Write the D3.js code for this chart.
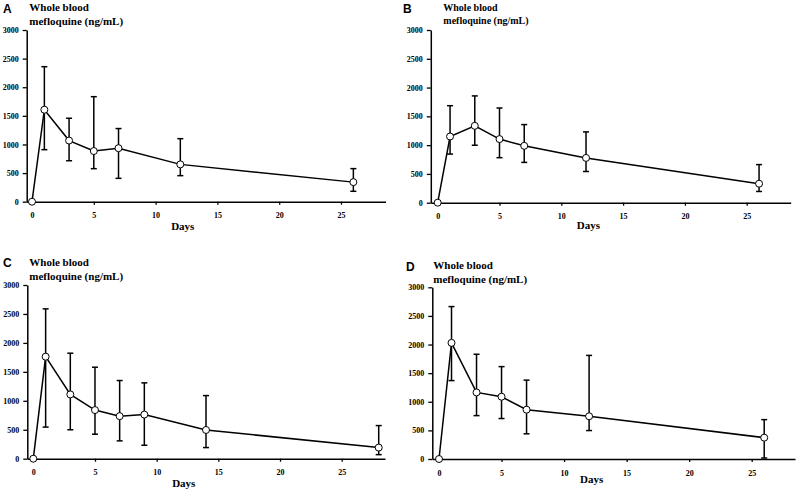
<!DOCTYPE html>
<html>
<head>
<meta charset="utf-8">
<script src="https://cdn.jsdelivr.net/npm/d3@7"></script>
<style>
  html, body { margin: 0; padding: 0; background: #fff; }
  svg { display: block; }
</style>
</head>
<body>
<svg id="chart" width="800" height="499"></svg>
<script>
// ---------------- DATA ----------------
const panelLetters = ["A", "B", "C", "D"];
const titleLine1 = "Whole blood";
const titleLine2 = "mefloquine (ng/mL)";
const xLabel = "Days";
const xTickValues = [0, 5, 10, 15, 20, 25];
const yTickValues = [0, 500, 1000, 1500, 2000, 2500, 3000];

const daysA = [0, 1, 3, 5, 7, 12, 26];
const meanA = [0, 1607, 1068, 885, 935, 652, 342];
const lowA  = [null, 909, 716, 577, 408, 455, 182];
const highA = [null, 2359, 1458, 1835, 1278, 1101, 578];

const daysB = [0, 1, 3, 5, 7, 12, 26];
const meanB = [0, 1150, 1335, 1105, 988, 778, 330];
const lowB  = [null, 845, 998, 782, 700, 542, 195];
const highB = [null, 1685, 1855, 1645, 1357, 1230, 662];

const daysC = [0, 1, 3, 5, 7, 9, 14, 28];
const meanC = [0, 1762, 1110, 840, 735, 762, 496, 192];
const lowC  = [null, 546, 500, 423, 308, 232, 192, 70];
const highC = [null, 2588, 1822, 1580, 1350, 1310, 1090, 572];

const daysD = [0, 1, 3, 5, 7, 12, 26];
const meanD = [0, 2029, 1163, 1088, 862, 746, 373];
const lowD  = [null, 1370, 758, 707, 440, 497, 17];
const highD = [null, 2663, 1830, 1614, 1378, 1810, 688];

// ---------------- LAYOUT (pixels) ----------------
const layouts = [
  { left: 26.7, x0: 32.0,  x25: 341.0, right: 385.5, yTop: 30.0,  yBot: 201.7,
    letterX: 3,   letterY: 12.5, titleX: 29.3,  t1Y: 11,  t2Y: 25,  tSize: 11, daysDy: 28 },
  { left: 430.8, x0: 437.7, x25: 746.7, right: 790.7, yTop: 30.0, yBot: 202.7,
    letterX: 403, letterY: 12.5, titleX: 443.3, t1Y: 10.5, t2Y: 24, tSize: 10, daysDy: 26 },
  { left: 27.3, x0: 33.3,  x25: 341.7, right: 385.0, yTop: 285.0, yBot: 458.7,
    letterX: 3,   letterY: 266.5, titleX: 29.3,  t1Y: 265.5, t2Y: 279.5, tSize: 11, daysDy: 28 },
  { left: 432.3, x0: 439.0, x25: 751.7, right: 795.0, yTop: 287.3, yBot: 459.0,
    letterX: 406, letterY: 271, titleX: 433.3, t1Y: 269, t2Y: 283, tSize: 11, daysDy: 23.5 }
];

const allData = [
  { days: daysA, mean: meanA, low: lowA, high: highA },
  { days: daysB, mean: meanB, low: lowB, high: highB },
  { days: daysC, mean: meanC, low: lowC, high: highC },
  { days: daysD, mean: meanD, low: lowD, high: highD }
];

const svg = d3.select("#chart");
const serif = "'Liberation Serif', 'Times New Roman', serif";
const sans = "'Liberation Sans', Arial, sans-serif";

allData.forEach((data, i) => {
  const L = layouts[i];
  const slope = (L.x25 - L.x0) / 25;
  const dMin = (L.left - L.x0) / slope;
  const dMax = (L.right - L.x0) / slope;

  const x = d3.scaleLinear().domain([dMin, dMax]).range([L.left, L.right]);
  const y = d3.scaleLinear().domain([0, 3000]).range([L.yBot, L.yTop]);

  const g = svg.append("g");

  // x axis
  const xAxis = g.append("g")
    .attr("transform", `translate(0,${L.yBot})`)
    .call(d3.axisBottom(x).tickValues(xTickValues).tickFormat(d3.format("d"))
      .tickSize(3).tickSizeOuter(0).tickPadding(8));
  // y axis
  const yAxis = g.append("g")
    .attr("transform", `translate(${L.left},0)`)
    .call(d3.axisLeft(y).tickValues(yTickValues).tickFormat(d3.format("d"))
      .tickSize(4).tickSizeOuter(0).tickPadding(4));

  [xAxis, yAxis].forEach(ax => {
    ax.select(".domain").attr("stroke", "#000").attr("stroke-width", 1.5);
    ax.selectAll(".tick line").attr("stroke", "#000").attr("stroke-width", 1.3);
    ax.selectAll(".tick text")
      .attr("fill", "#000")
      .style("font-family", serif)
      .style("font-weight", "bold")
      .style("font-size", "8px");
  });

  // Days label
  g.append("text")
    .attr("x", x(12.2))
    .attr("y", L.yBot + L.daysDy)
    .attr("text-anchor", "middle")
    .style("font-family", serif)
    .style("font-weight", "bold")
    .style("font-size", "11px")
    .text(xLabel);

  // Panel letter
  g.append("text")
    .attr("x", L.letterX)
    .attr("y", L.letterY)
    .style("font-family", sans)
    .style("font-weight", "bold")
    .style("font-size", "12px")
    .text(panelLetters[i]);

  // Title
  g.append("text")
    .attr("x", L.titleX).attr("y", L.t1Y)
    .style("font-family", serif).style("font-weight", "bold")
    .style("font-size", L.tSize + "px")
    .text(titleLine1);
  g.append("text")
    .attr("x", L.titleX).attr("y", L.t2Y)
    .style("font-family", serif).style("font-weight", "bold")
    .style("font-size", L.tSize + "px")
    .text(titleLine2);

  const pts = data.days.map((d, k) => ({
    day: d, mean: data.mean[k], low: data.low[k], high: data.high[k]
  }));

  // Error bars
  const eb = g.append("g").attr("stroke", "#000").attr("stroke-width", 1.5).attr("fill", "none");
  const withErr = pts.filter(p => p.low !== null);
  eb.selectAll("line.v").data(withErr).join("line")
    .attr("class", "v")
    .attr("x1", p => x(p.day)).attr("x2", p => x(p.day))
    .attr("y1", p => y(p.low)).attr("y2", p => y(p.high));
  const capW = 3;
  eb.selectAll("line.ct").data(withErr).join("line")
    .attr("class", "ct")
    .attr("x1", p => x(p.day) - capW).attr("x2", p => x(p.day) + capW)
    .attr("y1", p => y(p.high)).attr("y2", p => y(p.high));
  eb.selectAll("line.cb").data(withErr).join("line")
    .attr("class", "cb")
    .attr("x1", p => x(p.day) - capW).attr("x2", p => x(p.day) + capW)
    .attr("y1", p => y(p.low)).attr("y2", p => y(p.low));

  // Mean line
  const line = d3.line().x(p => x(p.day)).y(p => y(p.mean));
  g.append("path")
    .datum(pts)
    .attr("d", line)
    .attr("fill", "none")
    .attr("stroke", "#000")
    .attr("stroke-width", 1.5);

  // Markers
  g.selectAll("circle").data(pts).join("circle")
    .attr("cx", p => x(p.day))
    .attr("cy", p => y(p.mean))
    .attr("r", 3.5)
    .attr("fill", "#fff")
    .attr("stroke", "#000")
    .attr("stroke-width", 1);
});
</script>
</body>
</html>
